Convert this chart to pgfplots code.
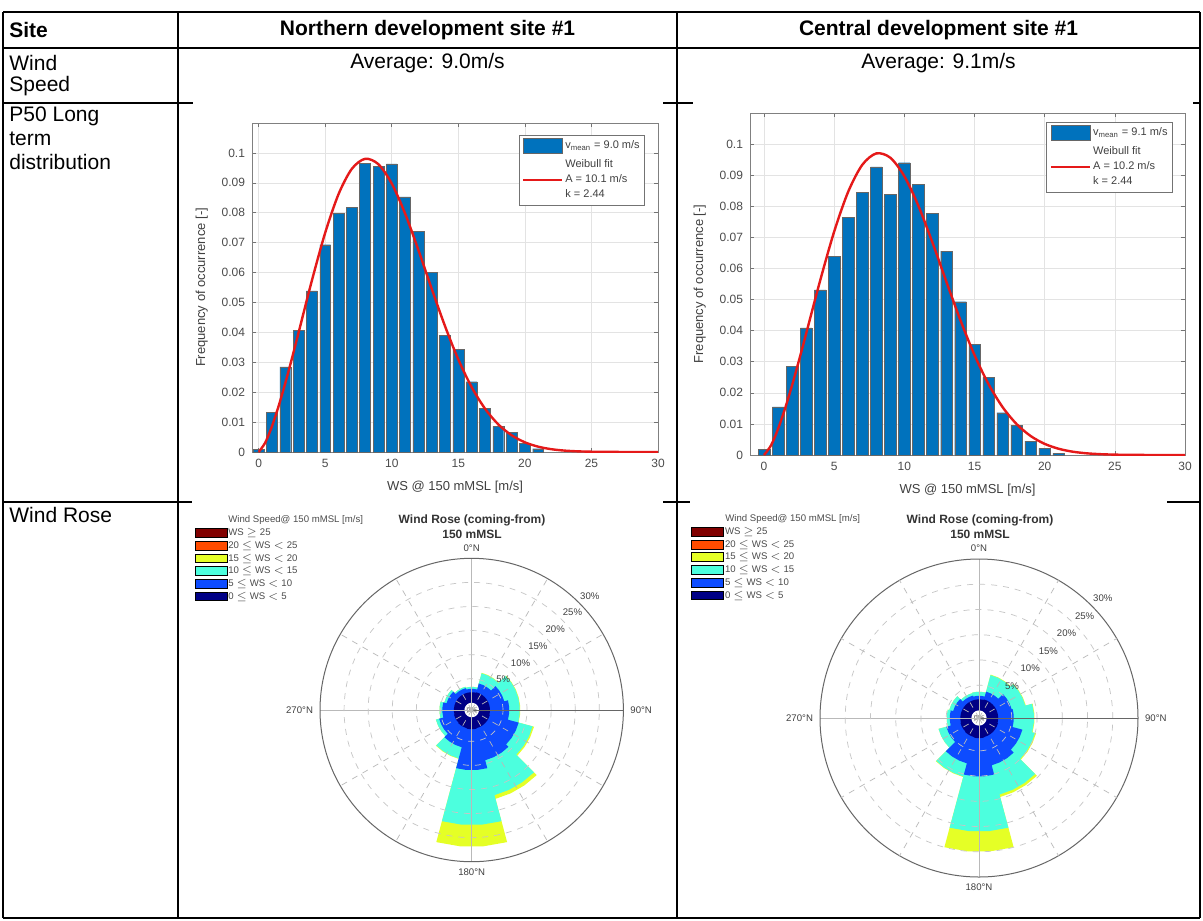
\documentclass[border=0pt]{standalone}
\usepackage{fontspec}
\setmainfont{Liberation Sans}
\usepackage{pgfplots}
\usepackage{pgfplotstable}
\pgfplotsset{compat=1.18}
\usepgfplotslibrary{polar}

\definecolor{mblue}{rgb}{0,0.447,0.741}
\definecolor{wred}{rgb}{0.9,0.1,0.1}
\definecolor{wsnavy}{rgb}{0,0,0.52}
\definecolor{wsblue}{rgb}{0.05,0.3,1}
\definecolor{wscyan}{rgb}{0.3,1,0.87}
\definecolor{wsyellow}{rgb}{0.9,1,0.15}
\definecolor{wsorange}{rgb}{1,0.3,0}
\definecolor{wsdred}{rgb}{0.5,0,0}

\pgfplotstableread{
x y
0 0.0010
1 0.0132
2 0.0285
3 0.0406
4 0.0539
5 0.0693
6 0.0799
7 0.0818
8 0.0966
9 0.0955
10 0.0963
11 0.0853
12 0.0737
13 0.0600
14 0.0391
15 0.0343
16 0.0235
17 0.0145
18 0.0086
19 0.0065
20 0.0028
21 0.0011
}\histN

\pgfplotstableread{
x y
0 0.0018
1 0.0155
2 0.0286
3 0.0409
4 0.0531
5 0.0640
6 0.0764
7 0.0845
8 0.0927
9 0.0838
10 0.0940
11 0.0870
12 0.0777
13 0.0656
14 0.0493
15 0.0356
16 0.0250
17 0.0136
18 0.0096
19 0.0045
20 0.0021
21 0.0005
}\histC

\pgfplotstableread{
a nv bl cy ye
-15 2.2 2.9 3.3 3.3
-5 2.2 2.9 3.3 3.3
5 2.2 2.9 3.3 3.3
15 2.2 2.9 3.3 3.3
15 2.3 4.2 6.4 6.5
25 2.3 4.2 6.4 6.5
35 2.3 4.2 6.4 6.5
45 2.3 4.2 6.4 6.5
45 2.3 5.5 8.5 8.6
55 2.3 5.5 8.5 8.6
65 2.3 5.5 8.5 8.6
75 2.3 5.5 8.5 8.6
75 2.3 6.3 8.5 8.6
85 2.3 6.3 8.5 8.6
95 2.3 6.3 8.5 8.6
105 2.3 6.3 8.5 8.6
105 2.4 8.6 11.6 11.9
115 2.4 8.6 11.6 11.9
125 2.4 8.6 11.6 11.9
135 2.4 8.6 11.6 11.9
135 2.4 9.3 16.8 17.6
145 2.4 9.3 16.8 17.6
155 2.4 9.3 16.8 17.6
165 2.4 9.3 16.8 17.6
165 2.5 11.0 22.4 26.9
175 2.5 11.0 22.4 26.9
185 2.5 11.0 22.4 26.9
195 2.5 11.0 22.4 26.9
195 2.4 6.5 8.9 9.0
205 2.4 6.5 8.9 9.0
215 2.4 6.5 8.9 9.0
225 2.4 6.5 8.9 9.0
225 2.3 5.5 6.2 6.2
235 2.3 5.5 6.2 6.2
245 2.3 5.5 6.2 6.2
255 2.3 5.5 6.2 6.2
255 2.2 4.6 5.2 5.2
265 2.2 4.6 5.2 5.2
275 2.2 4.6 5.2 5.2
285 2.2 4.6 5.2 5.2
285 2.2 3.9 4.4 4.4
295 2.2 3.9 4.4 4.4
305 2.2 3.9 4.4 4.4
315 2.2 3.9 4.4 4.4
315 2.2 3.2 3.5 3.5
325 2.2 3.2 3.5 3.5
335 2.2 3.2 3.5 3.5
345 2.2 3.2 3.5 3.5
}\roseN

\pgfplotstableread{
a nv bl cy ye
-15 2.2 2.9 3.7 3.7
-5 2.2 2.9 3.7 3.7
5 2.2 2.9 3.7 3.7
15 2.2 2.9 3.7 3.7
15 2.3 3.9 7.3 7.4
25 2.3 3.9 7.3 7.4
35 2.3 3.9 7.3 7.4
45 2.3 3.9 7.3 7.4
45 2.3 5.2 8.0 8.1
55 2.3 5.2 8.0 8.1
65 2.3 5.2 8.0 8.1
75 2.3 5.2 8.0 8.1
75 2.3 5.4 9.4 9.5
85 2.3 5.4 9.4 9.5
95 2.3 5.4 9.4 9.5
105 2.3 5.4 9.4 9.5
105 2.4 7.4 10.0 10.2
115 2.4 7.4 10.0 10.2
125 2.4 7.4 10.0 10.2
135 2.4 7.4 10.0 10.2
135 2.4 8.2 14.2 14.7
145 2.4 8.2 14.2 14.7
155 2.4 8.2 14.2 14.7
165 2.4 8.2 14.2 14.7
165 2.5 10.1 21.0 25.0
175 2.5 10.1 21.0 25.0
185 2.5 10.1 21.0 25.0
195 2.5 10.1 21.0 25.0
195 2.4 7.8 10.5 10.6
205 2.4 7.8 10.5 10.6
215 2.4 7.8 10.5 10.6
225 2.4 7.8 10.5 10.6
225 2.3 5.2 6.8 6.8
235 2.3 5.2 6.8 6.8
245 2.3 5.2 6.8 6.8
255 2.3 5.2 6.8 6.8
255 2.2 4.3 4.9 4.9
265 2.2 4.3 4.9 4.9
275 2.2 4.3 4.9 4.9
285 2.2 4.3 4.9 4.9
285 2.2 3.8 4.6 4.6
295 2.2 3.8 4.6 4.6
305 2.2 3.8 4.6 4.6
315 2.2 3.8 4.6 4.6
315 2.2 3.1 3.6 3.6
325 2.2 3.1 3.6 3.6
335 2.2 3.1 3.6 3.6
345 2.2 3.1 3.6 3.6
}\roseC

\pgfplotsset{
  histstyle/.style={
    scale only axis, ymin=0, ymax=0.11, xmax=30,
    xtick={0,5,10,15,20,25,30}, xticklabels={0,5,10,15,20,25,30},
    ytick={0,0.01,0.02,0.03,0.04,0.05,0.06,0.07,0.08,0.09,0.1},
    yticklabels={0,0.01,0.02,0.03,0.04,0.05,0.06,0.07,0.08,0.09,0.1},
    grid=major, major grid style={gray!22, line width=0.3pt},
    axis line style={black!50, line width=0.4pt},
    tick style={black!55, line width=0.3pt}, tick align=inside, major tick length=2pt,
    ticklabel style={font=\fontsize{6}{7}\selectfont, text=black!70},
    label style={font=\fontsize{6.5}{7.5}\selectfont, text=black!75},
    xlabel={WS @ 150 mMSL [m/s]}, ylabel={Frequency of occurrence [-]},
    legend cell align=left,
    legend style={font=\fontsize{5.5}{7.5}\selectfont, text=black!75, draw=black!55,
      line width=0.3pt, fill=white, inner sep=1.5pt, row sep=2pt,
      nodes={align=left, inner sep=1pt}},
  },
  rosestyle/.style={
    scale only axis, xmin=0, xmax=360, ymin=0, ymax=31.5, clip=false,
    xtick={0,90,180,270}, xticklabels={90°N,0°N,270°N,180°N},
    extra x ticks={30,60,120,150,210,240,300,330}, extra x tick labels={},
    extra x tick style={grid=major, major grid style={dashed, gray!45, line width=0.35pt}},
    ytick={6.5,11.5,16.5,21.5,26.5}, yticklabels={},
    grid=major, major x grid style={gray!55, line width=0.35pt},
    major y grid style={dashed, gray!45, line width=0.35pt},
    major tick length=0pt,
    axis line style={black!60, line width=0.5pt},
    xticklabel style={font=\fontsize{4.8}{5.5}\selectfont, text=black!75},
    axis on top,
    legend cell align=left,
    legend image code/.code={\fill (0pt,-2.2pt) rectangle (16pt,2.2pt);},
    legend style={draw=none, fill=none, anchor=north west,
      font=\fontsize{4.8}{5.5}\selectfont, text=black!70, row sep=0.85pt, inner sep=0pt,
      nodes={text height=3.6pt, text depth=0.9pt, inner sep=0.5pt}},
  },
}

\begin{document}
\begin{tikzpicture}
\useasboundingbox (0,0) rectangle (601.5pt,-460pt);
\fill[white] (0,0) rectangle (601.5pt,-460pt);
\begin{scope}[x=0.5pt,y=-0.5pt]
  \draw[line width=0.75pt] (3,12) -- (1200,12);
  \draw[line width=0.75pt] (3,48) -- (1200,48);
  \draw[line width=0.75pt] (3,103) -- (1200,103);
  \draw[line width=0.75pt] (3,502) -- (1200,502);
  \draw[line width=0.75pt] (3,918) -- (1200,918);
  \draw[line width=0.75pt] (3,12) -- (3,918);
  \draw[line width=0.75pt] (178,12) -- (178,918);
  \draw[line width=0.75pt] (677,12) -- (677,918);
  \draw[line width=0.75pt] (1200,12) -- (1200,918);
  \fill[white] (193,97) rectangle (663,497);
  \fill[white] (693,97) rectangle (1193,497);
  \fill[white] (192,498) rectangle (663,915);
  \fill[white] (690,498) rectangle (1167,915);
  \begin{scope}[every node/.style={font=\fontsize{10.5}{12}\selectfont, inner sep=0pt}]
    \node[anchor=west, font=\fontsize{10.5}{12}\selectfont\bfseries] at (9,30) {Site};
    \node[font=\fontsize{10.5}{12}\selectfont\bfseries] at (427.5,30) {Northern development site \#1};
    \node[font=\fontsize{10.5}{12}\selectfont\bfseries] at (938.5,30) {Central development site \#1};
    \node[anchor=west] at (9,63) {Wind};
    \node[anchor=west] at (9,86) {Speed};
    \node at (427.5,63) {Average: 9.0m/s};
    \node at (938.5,63) {Average: 9.1m/s};
    \node[anchor=west] at (9,116) {P50 Long};
    \node[anchor=west] at (9,139) {term};
    \node[anchor=west] at (9,162) {distribution};
    \node[anchor=west] at (9,515) {Wind Rose};
  \end{scope}
\end{scope}

\begin{axis}[histstyle, at={(126pt,-226pt)}, anchor=south west,
  width=203pt, height=164.5pt, xmin=-0.5,
  legend style={at={(0.968,0.9635)}, anchor=north east}]
\addplot[ybar, bar width=0.82, fill=mblue, draw=black!60, line width=0.2pt,
  legend image code/.code={\fill (0pt,-3.7pt) rectangle (19.5pt,3.7pt);}] table {\histN};
\addlegendentry{v\textsubscript{mean} = 9.0 m/s}
\addplot[wred, line width=1.2pt, smooth, tension=0.5,
  legend image code/.code={\draw (0pt,0pt) -- (19.5pt,0pt);}] coordinates {
(0,0) (0.5,0.00318) (1,0.00861) (1.5,0.01536) (2,0.02301) (2.5,0.03130) (3,0.03994)
(4,0.05735) (5,0.07332) (6,0.08620) (7,0.09468) (8,0.09803) (9,0.09620) (10,0.08973)
(11,0.07973) (12,0.06753) (13,0.05457) (14,0.04208) (15,0.03094) (16,0.02170)
(17,0.01451) (18,0.00924) (19,0.00561) (20,0.00324) (21,0.00178) (22,0.00093)
(23,0.00046) (24,0.00022) (25,0.00010) (26,0.00004) (27,0.00002) (28,0) (29,0) (30,0)};
\addlegendentry{Weibull fit\\A = 10.1 m/s\\k = 2.44}
\end{axis}

\begin{axis}[histstyle, at={(375pt,-227.5pt)}, anchor=south west,
  width=217.5pt, height=171pt, xmin=-1,
  legend style={at={(0.972,0.974)}, anchor=north east}]
\addplot[ybar, bar width=0.82, fill=mblue, draw=black!60, line width=0.2pt,
  legend image code/.code={\fill (0pt,-3.7pt) rectangle (19.5pt,3.7pt);}] table {\histC};
\addlegendentry{v\textsubscript{mean} = 9.1 m/s}
\addplot[wred, line width=1.2pt, smooth, tension=0.5,
  legend image code/.code={\draw (0pt,0pt) -- (19.5pt,0pt);}] coordinates {
(0,0) (0.5,0.00311) (1,0.00841) (1.5,0.01500) (2,0.02247) (2.5,0.03058) (3,0.03904)
(4,0.05612) (5,0.07189) (6,0.08471) (7,0.09333) (8,0.09700) (9,0.09561) (10,0.08966)
(11,0.08014) (12,0.06836) (13,0.05566) (14,0.04329) (15,0.03214) (16,0.02278)
(17,0.01541) (18,0.00994) (19,0.00611) (20,0.00358) (21,0.00200) (22,0.00106)
(23,0.00054) (24,0.00026) (25,0.00012) (26,0.00005) (27,0.00002) (28,0) (29,0) (30,0)};
\addlegendentry{Weibull fit\\A = 10.2 m/s\\k = 2.44}
\end{axis}

\begin{polaraxis}[rosestyle, at={(235.85pt,-355pt)}, anchor=center,
  width=151.7pt, height=151.7pt,
  legend style={at={(-0.415,1.103)}}]
\addplot[forget plot, fill=wsyellow, draw=none] table[x expr=90-\thisrow{a}, y expr=\thisrow{ye}+1.5] {\roseN};
\addplot[forget plot, fill=wscyan, draw=none] table[x expr=90-\thisrow{a}, y expr=\thisrow{cy}+1.5] {\roseN};
\addplot[forget plot, fill=wsblue, draw=none] table[x expr=90-\thisrow{a}, y expr=\thisrow{bl}+1.5] {\roseN};
\addplot[forget plot, fill=wsnavy, draw=none] table[x expr=90-\thisrow{a}, y expr=\thisrow{nv}+1.5] {\roseN};
\addplot[forget plot, fill=white, draw=none] coordinates {(0,1.5) (15,1.5) (30,1.5) (45,1.5) (60,1.5) (75,1.5) (90,1.5) (105,1.5) (120,1.5) (135,1.5) (150,1.5) (165,1.5) (180,1.5) (195,1.5) (210,1.5) (225,1.5) (240,1.5) (255,1.5) (270,1.5) (285,1.5) (300,1.5) (315,1.5) (330,1.5) (345,1.5)};
\addlegendimage{fill=wsdred}\addlegendentry{WS $\geq$ 25}
\addlegendimage{fill=wsorange}\addlegendentry{20 $\leq$ WS $<$ 25}
\addlegendimage{fill=wsyellow}\addlegendentry{15 $\leq$ WS $<$ 20}
\addlegendimage{fill=wscyan}\addlegendentry{10 $\leq$ WS $<$ 15}
\addlegendimage{fill=wsblue}\addlegendentry{5 $\leq$ WS $<$ 10}
\addlegendimage{fill=wsnavy}\addlegendentry{0 $\leq$ WS $<$ 5}
\begin{scope}[every node/.style={font=\fontsize{4.8}{5.5}\selectfont, text=black!75, inner sep=0pt}]
\node at (axis cs:44,9.1) {5\%};
\node at (axis cs:44,14.1) {10\%};
\node at (axis cs:44,19.1) {15\%};
\node at (axis cs:44,24.1) {20\%};
\node at (axis cs:44,29.1) {25\%};
\node at (axis cs:44,34.1) {30\%};
\node[font=\fontsize{3.5}{4}\selectfont] at (axis cs:0,0) {0\%};
\end{scope}
\end{polaraxis}

\begin{polaraxis}[rosestyle, at={(489.5pt,-359pt)}, anchor=center,
  width=159pt, height=159pt,
  legend style={at={(-0.406,1.104)}}]
\addplot[forget plot, fill=wsyellow, draw=none] table[x expr=90-\thisrow{a}, y expr=\thisrow{ye}+1.5] {\roseC};
\addplot[forget plot, fill=wscyan, draw=none] table[x expr=90-\thisrow{a}, y expr=\thisrow{cy}+1.5] {\roseC};
\addplot[forget plot, fill=wsblue, draw=none] table[x expr=90-\thisrow{a}, y expr=\thisrow{bl}+1.5] {\roseC};
\addplot[forget plot, fill=wsnavy, draw=none] table[x expr=90-\thisrow{a}, y expr=\thisrow{nv}+1.5] {\roseC};
\addplot[forget plot, fill=white, draw=none] coordinates {(0,1.5) (15,1.5) (30,1.5) (45,1.5) (60,1.5) (75,1.5) (90,1.5) (105,1.5) (120,1.5) (135,1.5) (150,1.5) (165,1.5) (180,1.5) (195,1.5) (210,1.5) (225,1.5) (240,1.5) (255,1.5) (270,1.5) (285,1.5) (300,1.5) (315,1.5) (330,1.5) (345,1.5)};
\addlegendimage{fill=wsdred}\addlegendentry{WS $\geq$ 25}
\addlegendimage{fill=wsorange}\addlegendentry{20 $\leq$ WS $<$ 25}
\addlegendimage{fill=wsyellow}\addlegendentry{15 $\leq$ WS $<$ 20}
\addlegendimage{fill=wscyan}\addlegendentry{10 $\leq$ WS $<$ 15}
\addlegendimage{fill=wsblue}\addlegendentry{5 $\leq$ WS $<$ 10}
\addlegendimage{fill=wsnavy}\addlegendentry{0 $\leq$ WS $<$ 5}
\begin{scope}[every node/.style={font=\fontsize{4.8}{5.5}\selectfont, text=black!75, inner sep=0pt}]
\node at (axis cs:44,9.1) {5\%};
\node at (axis cs:44,14.1) {10\%};
\node at (axis cs:44,19.1) {15\%};
\node at (axis cs:44,24.1) {20\%};
\node at (axis cs:44,29.1) {25\%};
\node at (axis cs:44,34.1) {30\%};
\node[font=\fontsize{3.5}{4}\selectfont] at (axis cs:0,0) {0\%};
\end{scope}
\end{polaraxis}

\begin{scope}[x=0.5pt,y=-0.5pt]
  \node[font=\fontsize{6}{7.5}\selectfont\bfseries, text=black!80, align=center] at (472,527) {Wind Rose (coming-from)\\150 mMSL};
  \node[font=\fontsize{6}{7.5}\selectfont\bfseries, text=black!80, align=center] at (980,527) {Wind Rose (coming-from)\\150 mMSL};
  \node[anchor=west, inner sep=0pt, font=\fontsize{4.8}{5.5}\selectfont, text=black!70] at (228,520) {Wind Speed@ 150 mMSL [m/s]};
  \node[anchor=west, inner sep=0pt, font=\fontsize{4.8}{5.5}\selectfont, text=black!70] at (725,519) {Wind Speed@ 150 mMSL [m/s]};
\end{scope}
\end{tikzpicture}
\end{document}
